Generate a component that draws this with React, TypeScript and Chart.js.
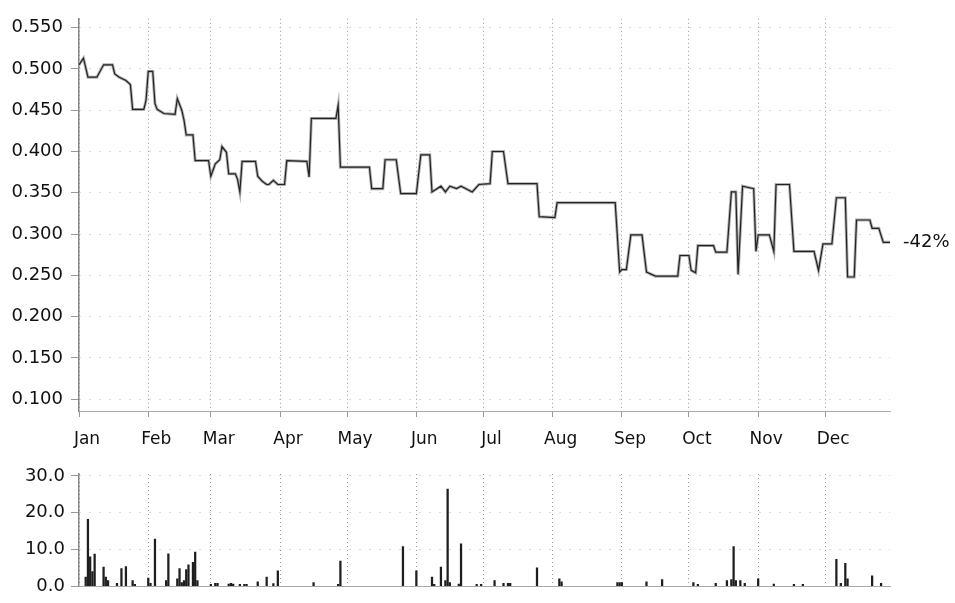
import React, { useEffect, useRef } from "react";
import { Chart, registerables } from "chart.js";

Chart.register(...registerables);

const monthStarts = [0, 31, 59, 90, 120, 151, 181, 212, 243, 273, 304, 334];
const monthLabels = ["Jan", "Feb", "Mar", "Apr", "May", "Jun", "Jul", "Aug", "Sep", "Oct", "Nov", "Dec"];

const priceTicks = [0.1, 0.15, 0.2, 0.25, 0.3, 0.35, 0.4, 0.45, 0.5, 0.55];
const volumeTicks = [0, 10, 20, 30];

const priceDays = [
  0, 2, 4, 8, 11, 15, 16, 18, 21, 23, 24, 29, 30, 31, 33, 34, 35, 38, 43, 44,
  46, 47, 48, 51, 52, 58, 59, 61, 63, 64, 66, 67, 70, 71, 72, 73, 79, 80, 82, 84,
  85, 87, 89, 92, 93, 102, 103, 104, 115, 116, 117, 130, 131, 136, 137, 142, 144, 151, 153, 157,
  158, 162, 164, 166, 169, 171, 176, 179, 184, 185, 190, 192, 205, 206, 213, 214, 240, 242, 243, 245,
  247, 252, 254, 258, 268, 269, 273, 274, 276, 277, 284, 285, 290, 292, 294, 295, 297, 302, 303, 304,
  309, 311, 312, 318, 320, 329, 331, 333, 337, 339, 343, 344, 347, 348, 354, 355, 358, 360, 363,
];
const priceValues = [
  0.505, 0.513, 0.49, 0.49, 0.505, 0.505, 0.494, 0.49, 0.486, 0.481, 0.451, 0.451, 0.462, 0.497, 0.497, 0.458, 0.451, 0.446, 0.445, 0.464,
  0.45, 0.438, 0.42, 0.42, 0.389, 0.389, 0.37, 0.385, 0.39, 0.406, 0.399, 0.373, 0.373, 0.366, 0.351, 0.388, 0.388, 0.37, 0.364, 0.36,
  0.36, 0.365, 0.36, 0.36, 0.389, 0.388, 0.369, 0.44, 0.44, 0.456, 0.381, 0.381, 0.355, 0.355, 0.39, 0.39, 0.349, 0.349, 0.396, 0.396,
  0.351, 0.358, 0.351, 0.358, 0.355, 0.358, 0.351, 0.36, 0.361, 0.4, 0.4, 0.361, 0.361, 0.321, 0.32, 0.338, 0.338, 0.254, 0.257, 0.257,
  0.299, 0.299, 0.254, 0.249, 0.249, 0.274, 0.274, 0.256, 0.253, 0.286, 0.286, 0.278, 0.278, 0.351, 0.351, 0.251, 0.358, 0.355, 0.279, 0.299,
  0.299, 0.279, 0.36, 0.36, 0.279, 0.279, 0.256, 0.288, 0.288, 0.344, 0.344, 0.248, 0.248, 0.317, 0.317, 0.307, 0.307, 0.29, 0.29,
];

const volumeDays = [
  3, 4, 5, 6, 7, 11, 12, 13, 17, 19, 21, 24, 25, 31, 32, 34, 39, 40, 44, 45,
  46, 47, 48, 49, 51, 52, 53, 59, 61, 62, 67, 68, 69, 72, 74, 75, 80, 84, 87, 89,
  105, 116, 117, 145, 151, 158, 159, 162, 164, 165, 166, 170, 171, 178, 180, 186, 190, 192, 193, 205,
  215, 216, 241, 242, 243, 254, 261, 275, 277, 285, 290, 292, 293, 294, 296, 298, 304, 311, 320, 324,
  339, 341, 343, 344, 355, 359,
];
const volumeValues = [
  2.5, 18.2, 8.0, 4.0, 8.7, 5.2, 2.5, 1.5, 0.8, 4.8, 5.3, 1.5, 0.5, 2.2, 0.8, 12.8, 1.5, 8.8, 2.0, 4.8,
  1.0, 1.5, 4.5, 5.8, 6.5, 9.3, 1.5, 0.5, 0.8, 0.8, 0.6, 0.8, 0.6, 0.5, 0.5, 0.5, 1.2, 2.5, 0.7, 4.2,
  1.0, 0.5, 6.8, 10.8, 4.2, 2.5, 0.5, 5.2, 1.5, 26.4, 1.0, 0.6, 11.5, 0.5, 0.5, 1.5, 0.8, 0.8, 0.8, 5.0,
  2.0, 1.2, 1.0, 1.0, 1.0, 1.2, 1.8, 1.0, 0.5, 0.8, 1.5, 1.8, 10.8, 1.5, 1.5, 0.8, 2.0, 0.6, 0.5, 0.5,
  7.3, 0.8, 6.2, 2.0, 2.8, 0.8,
];

const changeLabel = "-42%";

const FONT = "'DejaVu Sans', sans-serif";
const TEXT = "#111";

const changePlugin = {
  id: "changeLabel",
  afterDatasetsDraw(chart: any) {
    const { ctx, chartArea, scales } = chart;
    const y = scales.y.getPixelForValue(priceValues[priceValues.length - 1]);
    ctx.save();
    ctx.font = `18px ${FONT}`;
    ctx.fillStyle = TEXT;
    ctx.textAlign = "left";
    ctx.textBaseline = "middle";
    ctx.fillText(changeLabel, chartArea.right + 13, y);
    ctx.restore();
  },
};

function monthAxis(showLabels: boolean) {
  return {
    type: "linear" as const,
    min: 0,
    max: 363,
    offset: false,
    afterBuildTicks(scale: any) {
      scale.ticks = monthStarts.map((v) => ({ value: v }));
    },
    afterFit(scale: any) {
      scale.height = showLabels ? 41 : 0;
    },
    grid: {
      display: true,
      offset: false,
      color: "#9a9a9a",
      lineWidth: 1,
      drawTicks: showLabels,
      tickLength: 6,
      tickColor: "#999",
      tickBorderDash: [],
    },
    border: { display: true, color: "#aaa", width: 1, dash: [1, 3] },
    ticks: {
      display: showLabels,
      autoSkip: false,
      maxRotation: 0,
      padding: 12,
      labelOffset: 8,
      color: TEXT,
      font: { family: FONT, size: 17 },
      callback: (v: any) => {
        const i = monthStarts.indexOf(Number(v));
        return i >= 0 ? monthLabels[i] : "";
      },
    },
  };
}

export default function App() {
  const topRef = useRef<HTMLCanvasElement>(null);
  const botRef = useRef<HTMLCanvasElement>(null);

  useEffect(() => {
    const points = priceDays.map((d, i) => ({ x: d, y: priceValues[i] }));
    const top = new Chart(topRef.current!, {
      type: "line",
      data: {
        datasets: [
          {
            data: points,
            borderColor: "#222",
            borderWidth: 1.2,
            pointRadius: 0,
            tension: 0,
          },
          {
            data: points,
            borderColor: "#b0b0b0",
            borderWidth: 3,
            pointRadius: 0,
            tension: 0,
          },
        ],
      },
      options: {
        animation: false,
        responsive: true,
        maintainAspectRatio: false,
        layout: { padding: { top: 12, right: 65, left: 0, bottom: 0 } },
        plugins: { legend: { display: false }, tooltip: { enabled: false } },
        scales: {
          x: monthAxis(true) as any,
          y: {
            type: "linear",
            min: 0.0857,
            max: 0.5607,
            afterBuildTicks(scale: any) {
              scale.ticks = priceTicks.map((v) => ({ value: v }));
            },
            afterFit(scale: any) {
              scale.width = 79;
            },
            grid: {
              color: "#b5b5b5",
              drawTicks: true,
              tickLength: 8,
              tickColor: "#999",
              tickBorderDash: [],
            },
            border: { display: true, color: "#888", width: 1.5, dash: [1, 9] },
            ticks: {
              padding: 8,
              color: TEXT,
              font: { family: FONT, size: 18 },
              callback: (v: any) => Number(v).toFixed(3),
            },
          },
        },
      },
      plugins: [changePlugin],
    });

    const bars = volumeDays.map((d, i) => ({ x: d, y: volumeValues[i] }));
    const bot = new Chart(botRef.current!, {
      type: "bar",
      data: {
        datasets: [
          {
            data: bars,
            backgroundColor: "#1e1e1e",
            barThickness: 1.6,
          },
        ],
      },
      options: {
        animation: false,
        responsive: true,
        maintainAspectRatio: false,
        layout: { padding: { top: 22, right: 65, left: 0, bottom: 9 } },
        plugins: { legend: { display: false }, tooltip: { enabled: false } },
        scales: {
          x: monthAxis(false) as any,
          y: {
            type: "linear",
            min: 0,
            max: 30.5,
            afterBuildTicks(scale: any) {
              scale.ticks = volumeTicks.map((v) => ({ value: v }));
            },
            afterFit(scale: any) {
              scale.width = 79;
            },
            grid: {
              color: "#b5b5b5",
              drawTicks: true,
              tickLength: 8,
              tickColor: "#999",
              tickBorderDash: [],
            },
            border: { display: true, color: "#888", width: 1.5, dash: [1, 9] },
            ticks: {
              padding: 6,
              color: TEXT,
              font: { family: FONT, size: 18 },
              callback: (v: any) => Number(v).toFixed(1),
            },
          },
        },
      },
    });

    return () => {
      top.destroy();
      bot.destroy();
    };
  }, []);

  return (
    <div style={{ position: "fixed", left: 0, top: 0, width: 955, height: 603, background: "#fff" }}>
      <div style={{ position: "absolute", left: 0, top: 0, width: 955, height: 452 }}>
        <canvas ref={topRef} />
      </div>
      <div style={{ position: "absolute", left: 0, top: 452, width: 955, height: 151 }}>
        <canvas ref={botRef} />
      </div>
    </div>
  );
}
